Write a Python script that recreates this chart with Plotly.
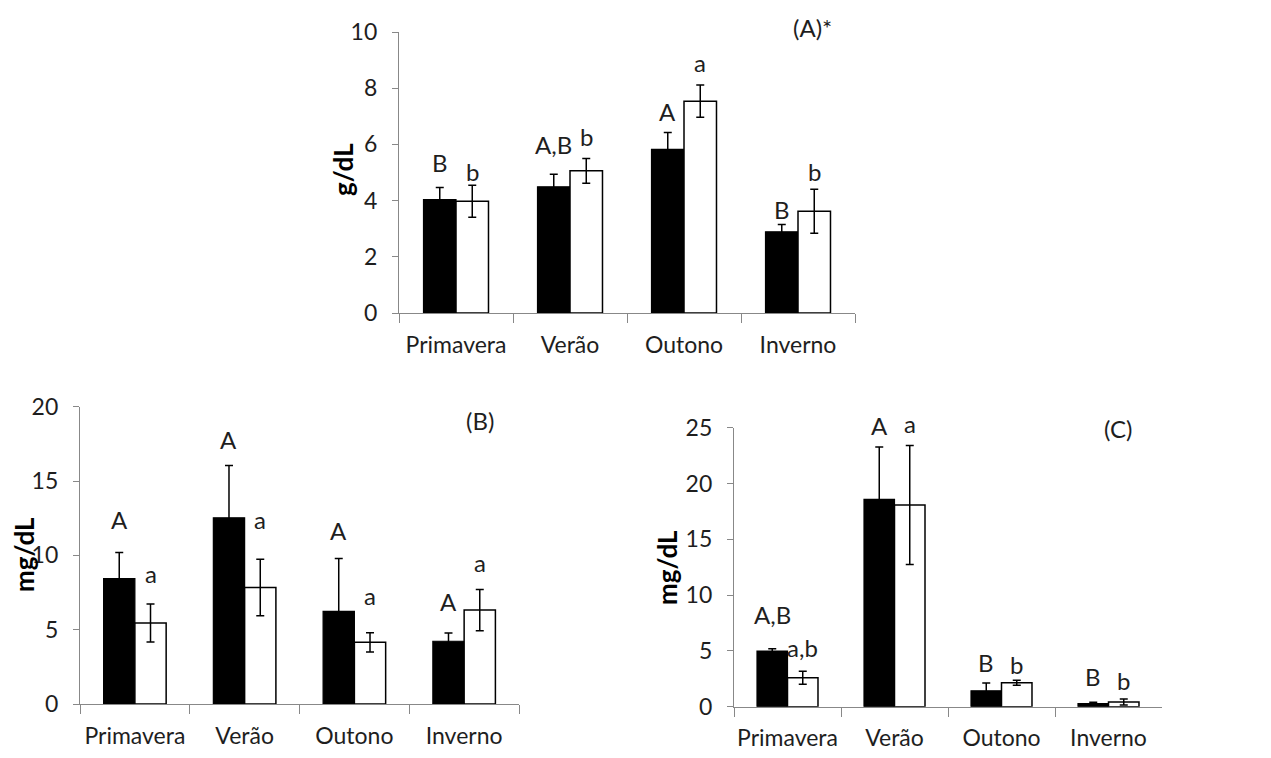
import plotly.graph_objects as go

W, H = 1271, 758

seasons = ["Primavera", "Verão", "Outono", "Inverno"]

# Panel A (g/dL)
a_black = [4.04, 4.49, 5.82, 2.89]
a_black_err = [0.43, 0.45, 0.60, 0.26]
a_white = [3.98, 5.06, 7.54, 3.62]
a_white_err = [0.57, 0.44, 0.57, 0.78]
a_black_lbl = ["B", "A,B", "A", "B"]
a_white_lbl = ["b", "b", "a", "b"]
a_black_lbl_y = [4.99, 5.62, 6.80, 3.30]
a_white_lbl_y = [4.67, 5.91, 8.55, 4.67]

# Panel B (mg/dL)
b_black = [8.43, 12.53, 6.23, 4.22]
b_black_err = [1.77, 3.52, 3.55, 0.56]
b_white = [5.45, 7.83, 4.15, 6.32]
b_white_err = [1.28, 1.90, 0.65, 1.39]
b_black_lbl = ["A", "A", "A", "A"]
b_white_lbl = ["a", "a", "a", "a"]
b_black_lbl_y = [11.7, 17.1, 10.96, 6.17]
b_white_lbl_y = [8.1, 11.7, 6.6, 8.8]

# Panel C (mg/dL)
c_black = [4.99, 18.58, 1.43, 0.27]
c_black_err = [0.21, 4.69, 0.69, 0.12]
c_white = [2.60, 18.07, 2.15, 0.42]
c_white_err = [0.58, 5.33, 0.23, 0.27]
c_black_lbl = ["A,B", "A", "B", "B"]
c_white_lbl = ["a,b", "a", "b", "b"]
c_black_lbl_y = [7.3, 24.3, 2.99, 1.73]
c_white_lbl_y = [4.33, 24.4, 2.84, 1.40]

FONT = "Lato"
TXT = "#1e1e1e"
AX = "#888888"
BARGAP = 0.43

panels = [
    dict(x0=399, x1=855, yb=313, yt=32, ymax=10, dtick=2, title="g/dL", tag="(A)*",
         tagx=812, tagy=27, titlex=343, titley=169,
         data=(a_black, a_black_err, a_white, a_white_err,
               a_black_lbl, a_white_lbl, a_black_lbl_y, a_white_lbl_y)),
    dict(x0=80, x1=519, yb=704, yt=406.7, ymax=20, dtick=5, title="mg/dL", tag="(B)",
         tagx=480, tagy=420, titlex=24, titley=555,
         data=(b_black, b_black_err, b_white, b_white_err,
               b_black_lbl, b_white_lbl, b_black_lbl_y, b_white_lbl_y)),
    dict(x0=734, x1=1162, yb=706.7, yt=427.7, ymax=25, dtick=5, title="mg/dL", tag="(C)",
         tagx=1118, tagy=428, titlex=667, titley=568,
         data=(c_black, c_black_err, c_white, c_white_err,
               c_black_lbl, c_white_lbl, c_black_lbl_y, c_white_lbl_y)),
]

fig = go.Figure()
annotations = []
layout = {}

for i, p in enumerate(panels):
    n = "" if i == 0 else str(i + 1)
    xa, ya = "x" + n, "y" + n
    blk, blk_e, wht, wht_e, blbl, wlbl, bly, wly = p["data"]
    eb = dict(type="data", visible=True, color="black", thickness=1.5, width=4)
    fig.add_trace(go.Bar(x=seasons, y=blk, error_y=dict(array=blk_e, **eb),
                         marker=dict(color="black", line=dict(color="black", width=1.2)),
                         xaxis=xa, yaxis=ya, showlegend=False))
    fig.add_trace(go.Bar(x=seasons, y=wht, error_y=dict(array=wht_e, **eb),
                         marker=dict(color="white", line=dict(color="black", width=1.5)),
                         xaxis=xa, yaxis=ya, showlegend=False))
    layout["xaxis" + n] = dict(
        domain=[p["x0"] / W, p["x1"] / W], anchor=ya, type="category", automargin=False,
        range=[-0.5, 3.5], showline=True, linecolor=AX, linewidth=1.3, tickangle=0,
        ticks="outside", tickson="boundaries", ticklen=9, tickcolor=AX, tickwidth=1.3,
        ticklabelstandoff=11,
        tickfont=dict(family=FONT, size=23, color=TXT), showgrid=False, zeroline=False,
        fixedrange=True)
    layout["yaxis" + n] = dict(
        domain=[1 - p["yb"] / H, 1 - p["yt"] / H], anchor=xa, automargin=False,
        range=[0, p["ymax"]], dtick=p["dtick"], showline=True, linecolor=AX, linewidth=1.3,
        ticks="outside", ticklen=6, tickcolor=AX, tickwidth=1.3, ticklabelstandoff=10,
        tickfont=dict(family=FONT, size=23, color=TXT), showgrid=False, zeroline=False,
        fixedrange=True)
    cat_px = (p["x1"] - p["x0"]) / len(seasons)
    shift = cat_px * (1 - BARGAP) / 4
    for s, lb, ly in zip(seasons, blbl, bly):
        annotations.append(dict(x=s, y=ly, xref=xa, yref=ya, text=lb, showarrow=False,
                                xshift=-shift, yanchor="bottom", yshift=-6,
                                font=dict(family=FONT, size=24, color=TXT)))
    for s, lb, ly in zip(seasons, wlbl, wly):
        annotations.append(dict(x=s, y=ly, xref=xa, yref=ya, text=lb, showarrow=False,
                                xshift=shift, yanchor="bottom", yshift=-6,
                                font=dict(family=FONT, size=24, color=TXT)))
    annotations.append(dict(x=p["tagx"] / W, y=1 - p["tagy"] / H, xref="paper", yref="paper",
                            text=p["tag"], showarrow=False, xanchor="center", yanchor="middle",
                            font=dict(family=FONT, size=24, color=TXT)))
    annotations.append(dict(x=p["titlex"] / W, y=1 - p["titley"] / H,
                            xref="paper", yref="paper", text="<b>" + p["title"] + "</b>",
                            textangle=-90, showarrow=False, xanchor="center", yanchor="middle",
                            font=dict(family=FONT, size=26, color="black")))

fig.update_layout(width=W, height=H, margin=dict(l=0, r=0, t=0, b=0, pad=0),
                  paper_bgcolor="white", plot_bgcolor="white",
                  barmode="group", bargap=BARGAP, bargroupgap=0,
                  annotations=annotations, showlegend=False, **layout)

fig.write_html("out.html", config={"displayModeBar": False},
               post_script="document.body.style.margin='0';document.body.style.overflow='hidden';")
